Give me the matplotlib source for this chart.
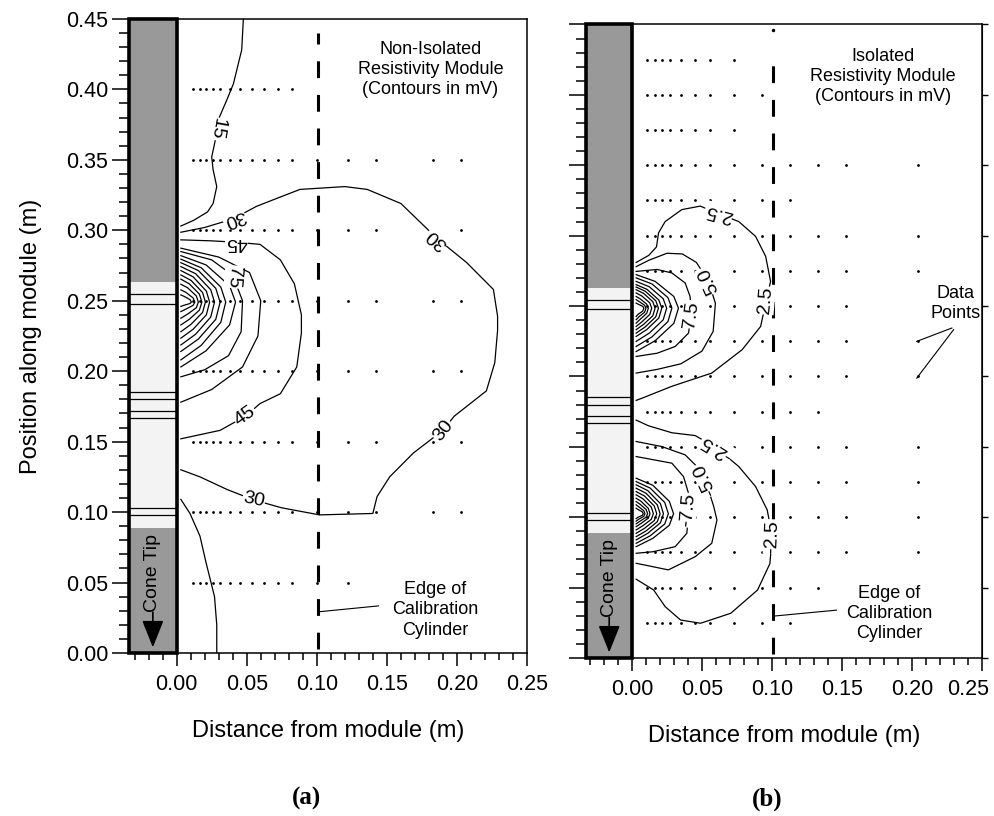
import matplotlib.pyplot as plt
from matplotlib.patches import Rectangle
from matplotlib.ticker import MultipleLocator, FormatStrFormatter

plt.rcParams['font.family'] = ['Liberation Sans', 'DejaVu Sans']

# ---------------------------------------------------------------- module
MOD_TOP_GRAY = (0.263, 0.45)
MOD_TIP_GRAY = (0.0, 0.089)
MOD_BANDS = [0.2546, 0.248, 0.1855, 0.180, 0.172, 0.1666, 0.103, 0.098]

X_TICKS = [0.0, 0.05, 0.10, 0.15, 0.20, 0.25]
Y_TICKS = [0.0, 0.05, 0.10, 0.15, 0.20, 0.25, 0.30, 0.35, 0.40, 0.45]

# ------------------------------------------- (a) non-isolated, contours in mV
A_LEFT = -0.034
A_C15U_X = [0.003, 0.012, 0.022, 0.026, 0.0286, 0.026, 0.025, 0.028, 0.0295, 0.036, 0.0405, 0.0464, 0.0476]
A_C15U_Y = [0.303, 0.307, 0.313, 0.319, 0.331, 0.343, 0.352, 0.366, 0.378, 0.393, 0.404, 0.428, 0.45]
A_C15L_X = [0.003, 0.0095, 0.0166, 0.021, 0.027, 0.0286, 0.0286]
A_C15L_Y = [0.109, 0.099, 0.083, 0.064, 0.04, 0.02, 0.0]
A_C30_X = [0.003, 0.02, 0.04, 0.057, 0.075, 0.088, 0.104, 0.12, 0.136, 0.16, 0.186, 0.207,
           0.226, 0.229, 0.229, 0.227, 0.221, 0.198, 0.19, 0.169, 0.152, 0.143, 0.14, 0.102,
           0.075, 0.055, 0.036, 0.0166, 0.003]
A_C30_Y = [0.2986, 0.302, 0.308, 0.317, 0.324, 0.329, 0.33, 0.331, 0.329, 0.319, 0.294, 0.277,
           0.258, 0.239, 0.229, 0.206, 0.186, 0.168, 0.158, 0.142, 0.125, 0.111, 0.099, 0.098,
           0.103, 0.1086, 0.116, 0.125, 0.13]
A_C45_X = [0.003, 0.025, 0.0425, 0.0595, 0.074, 0.084, 0.089, 0.089, 0.0857, 0.074, 0.0595, 0.049, 0.031, 0.003]
A_C45_Y = [0.2932, 0.2925, 0.2915, 0.29, 0.279, 0.262, 0.24, 0.227, 0.203, 0.184, 0.177, 0.168, 0.158, 0.152]
A_C60_X = [0.003, 0.03, 0.052, 0.06, 0.058, 0.047, 0.025, 0.003]
A_C60_Y = [0.2873, 0.281, 0.27, 0.25, 0.225, 0.203, 0.187, 0.178]
A_C75_X = [0.003, 0.025, 0.04, 0.047, 0.046, 0.037, 0.02, 0.003]
A_C75_Y = [0.2849, 0.279, 0.268, 0.25, 0.228, 0.211, 0.201, 0.196]
# 90 ... 225 mV, squeezed round the electrode
A_INNER_X = [
    [0.003, 0.021, 0.0378, 0.042, 0.0378, 0.021, 0.003],
    [0.003, 0.0175, 0.0315, 0.035, 0.0315, 0.0175, 0.003],
    [0.003, 0.0155, 0.0279, 0.031, 0.0279, 0.0155, 0.003],
    [0.003, 0.0135, 0.0243, 0.027, 0.0243, 0.0135, 0.003],
    [0.003, 0.0118, 0.0212, 0.0235, 0.0212, 0.0118, 0.003],
    [0.003, 0.0103, 0.0185, 0.0205, 0.0185, 0.0103, 0.003],
    [0.003, 0.009, 0.0162, 0.018, 0.0162, 0.009, 0.003],
    [0.003, 0.0078, 0.014, 0.0155, 0.014, 0.0078, 0.003],
    [0.003, 0.0065, 0.0117, 0.013, 0.0117, 0.0065, 0.003],
    [0.003, 0.0053, 0.0095, 0.0105, 0.0095, 0.0053, 0.003],
]
A_INNER_Y = [
    [0.282, 0.2754, 0.2606, 0.249, 0.2329, 0.2145, 0.203],
    [0.2795, 0.2734, 0.2597, 0.249, 0.2347, 0.2183, 0.208],
    [0.277, 0.2714, 0.2588, 0.249, 0.2368, 0.2228, 0.214],
    [0.2742, 0.2692, 0.2578, 0.249, 0.2384, 0.2262, 0.2186],
    [0.2714, 0.2669, 0.2568, 0.249, 0.24, 0.2298, 0.2234],
    [0.2683, 0.2644, 0.2558, 0.249, 0.2417, 0.2333, 0.228],
    [0.2653, 0.262, 0.2547, 0.249, 0.2433, 0.2368, 0.2328],
    [0.2617, 0.2592, 0.2534, 0.249, 0.245, 0.2405, 0.2376],
    [0.2577, 0.256, 0.252, 0.249, 0.2467, 0.244, 0.2423],
    [0.2541, 0.2531, 0.2508, 0.249, 0.248, 0.2468, 0.246],
]
A_LABELS = [('15', 0.0285, 0.372, -100), ('30', 0.041, 0.3085, 200), ('45', 0.0425, 0.2915, 180),
            ('75', 0.0405, 0.267, -95), ('30', 0.186, 0.294, 138), ('45', 0.049, 0.168, 35),
            ('30', 0.19, 0.158, 52), ('30', 0.055, 0.1086, -12)]
A_DOT_X = [0.012, 0.0165, 0.021, 0.026, 0.031, 0.038, 0.045, 0.0535, 0.0625, 0.072, 0.082,
           0.10, 0.122, 0.142, 0.183, 0.203]
A_ROWS = [0.05, 0.10, 0.15, 0.20, 0.25, 0.30, 0.35, 0.40]
A_ROW_XMAX = [0.125, 0.21, 0.21, 0.21, 0.21, 0.21, 0.21, 0.09]
A_EDGE_X, A_EDGE_Y = 0.101, (0.003, 0.44)

# --------------------------------------------- (b) isolated, contours in mV
B_LEFT = -0.0325
B_P25_X = [0.003, 0.012, 0.0175, 0.019, 0.0237, 0.0356, 0.0488, 0.0607, 0.0763, 0.0883, 0.0955,
           0.099, 0.0955, 0.0919, 0.0787, 0.057, 0.0285, 0.0083, 0.003]
B_P25_Y = [0.281, 0.286, 0.292, 0.302, 0.31, 0.3185, 0.321, 0.316, 0.31, 0.2995, 0.2853,
           0.2675, 0.252, 0.2355, 0.219, 0.2024, 0.193, 0.185, 0.183]
B_P50_X = [0.003, 0.012, 0.025, 0.036, 0.046, 0.0545, 0.0596, 0.058, 0.05, 0.035, 0.018, 0.003]
B_P50_Y = [0.278, 0.2825, 0.2875, 0.287, 0.281, 0.268, 0.252, 0.232, 0.218, 0.209, 0.205, 0.2024]
B_P75_X = [0.003, 0.018, 0.0285, 0.038, 0.0415, 0.0425, 0.0404, 0.0309, 0.018, 0.003]
B_P75_Y = [0.2746, 0.276, 0.2735, 0.2664, 0.2568, 0.245, 0.2308, 0.2213, 0.2165, 0.2142]
B_PIN_X = [
    [0.003, 0.0166, 0.0299, 0.0332, 0.0299, 0.0166, 0.003],
    [0.003, 0.0143, 0.0257, 0.0285, 0.0257, 0.0143, 0.003],
    [0.003, 0.0124, 0.0223, 0.0248, 0.0223, 0.0124, 0.003],
    [0.003, 0.0107, 0.0192, 0.0213, 0.0192, 0.0107, 0.003],
    [0.003, 0.0095, 0.017, 0.0189, 0.017, 0.0095, 0.003],
    [0.003, 0.0083, 0.0149, 0.0165, 0.0149, 0.0083, 0.003],
    [0.003, 0.0071, 0.0127, 0.0141, 0.0127, 0.0071, 0.003],
    [0.003, 0.0059, 0.0105, 0.0117, 0.0105, 0.0059, 0.003],
    [0.003, 0.005, 0.009, 0.01, 0.009, 0.005, 0.003],
    [0.003, 0.0043, 0.0077, 0.0085, 0.0077, 0.0043, 0.003],
]
B_PIN_Y = [
    [0.2723, 0.2675, 0.2568, 0.2485, 0.2377, 0.2254, 0.2177],
    [0.27, 0.2657, 0.256, 0.2485, 0.239, 0.2281, 0.2213],
    [0.2675, 0.2637, 0.2552, 0.2485, 0.2402, 0.2308, 0.2249],
    [0.2652, 0.2619, 0.2543, 0.2485, 0.2415, 0.2334, 0.2284],
    [0.2635, 0.2605, 0.2538, 0.2485, 0.2423, 0.2352, 0.2308],
    [0.2616, 0.259, 0.2531, 0.2485, 0.2431, 0.237, 0.2332],
    [0.2593, 0.2571, 0.2523, 0.2485, 0.244, 0.2388, 0.2355],
    [0.2568, 0.2551, 0.2514, 0.2485, 0.2448, 0.2406, 0.2379],
    [0.2545, 0.2533, 0.2506, 0.2485, 0.2456, 0.2424, 0.2403],
    [0.2521, 0.2514, 0.2498, 0.2485, 0.2464, 0.2441, 0.2426],
]
B_N25_X = [0.003, 0.0117, 0.0285, 0.0452, 0.0607, 0.0763, 0.0883, 0.0966, 0.1002, 0.0985,
           0.0897, 0.0706, 0.049, 0.0347, 0.0237, 0.0155, 0.003]
B_N25_Y = [0.169, 0.165, 0.16, 0.158, 0.149, 0.136, 0.1218, 0.1052, 0.0862, 0.067,
           0.0483, 0.0318, 0.0247, 0.027, 0.0365, 0.0483, 0.056]
B_N50_X = [0.003, 0.0213, 0.038, 0.0452, 0.0524, 0.0584, 0.0607, 0.057, 0.0452, 0.026, 0.003]
B_N50_Y = [0.1538, 0.1502, 0.1443, 0.1372, 0.1265, 0.1076, 0.098, 0.0815, 0.072, 0.0626, 0.0673]
B_N75_X = [0.003, 0.0285, 0.0368, 0.0404, 0.0405, 0.0392, 0.0309, 0.015, 0.003]
B_N75_Y = [0.1431, 0.1384, 0.1289, 0.117, 0.105, 0.0886, 0.0791, 0.0755, 0.0744]
B_NIN_X = [
    [0.003, 0.0149, 0.0267, 0.0297, 0.0267, 0.0149, 0.003],
    [0.003, 0.013, 0.0234, 0.026, 0.0234, 0.013, 0.003],
    [0.003, 0.0113, 0.0203, 0.0225, 0.0203, 0.0113, 0.003],
    [0.003, 0.0101, 0.0181, 0.0201, 0.0181, 0.0101, 0.003],
    [0.003, 0.0089, 0.0159, 0.0177, 0.0159, 0.0089, 0.003],
    [0.003, 0.0077, 0.0138, 0.0153, 0.0138, 0.0077, 0.003],
    [0.003, 0.0065, 0.0116, 0.0129, 0.0116, 0.0065, 0.003],
    [0.003, 0.0056, 0.0101, 0.0112, 0.0101, 0.0056, 0.003],
    [0.003, 0.0047, 0.0084, 0.0093, 0.0084, 0.0047, 0.003],
    [0.003, 0.0041, 0.0073, 0.0081, 0.0073, 0.0041, 0.003],
]
B_NIN_Y = [
    [0.1277, 0.1227, 0.1113, 0.1025, 0.0943, 0.085, 0.0791],
    [0.1253, 0.1207, 0.1105, 0.1025, 0.0952, 0.0868, 0.0815],
    [0.123, 0.1189, 0.1097, 0.1025, 0.096, 0.0886, 0.0839],
    [0.1206, 0.117, 0.1088, 0.1025, 0.0968, 0.0903, 0.0862],
    [0.1182, 0.1151, 0.108, 0.1025, 0.0976, 0.0921, 0.0886],
    [0.1159, 0.1132, 0.1072, 0.1025, 0.0985, 0.0939, 0.091],
    [0.1135, 0.1113, 0.1064, 0.1025, 0.0993, 0.0956, 0.0933],
    [0.1111, 0.1094, 0.1055, 0.1025, 0.1, 0.0971, 0.0953],
    [0.1088, 0.1075, 0.1047, 0.1025, 0.1006, 0.0985, 0.0972],
    [0.1064, 0.1056, 0.1039, 0.1025, 0.1013, 0.0999, 0.099],
]
B_LABELS = [('2.5', 0.062, 0.3165, 165), ('2.5', 0.0955, 0.254, 85), ('5.0', 0.0545, 0.268, 114),
            ('7.5', 0.0425, 0.244, 82), ('-2.5', 0.0607, 0.1495, 148), ('-5.0', 0.0524, 0.1265, 114),
            ('-7.5', 0.040, 0.105, 85), ('-2.5', 0.1002, 0.0862, 88)]
B_DOT_X = [0.011, 0.0165, 0.0215, 0.027, 0.035, 0.045, 0.056, 0.073, 0.093, 0.113, 0.133, 0.153, 0.204]
B_ROWS = [0.025, 0.05, 0.075, 0.10, 0.125, 0.15, 0.175, 0.20, 0.225, 0.25, 0.275, 0.30,
          0.325, 0.35, 0.375, 0.40, 0.425]
B_ROW_XMAX = [0.115, 0.14, 0.21, 0.21, 0.21, 0.21, 0.14, 0.21, 0.21, 0.16, 0.21, 0.21,
              0.115, 0.21, 0.08, 0.095, 0.08]
B_EDGE_X, B_EDGE_Y = 0.1005, (0.003, 0.432)


def draw_module(ax, left):
    w = -left
    ax.add_patch(Rectangle((left, 0), w, 0.45, fc='#f3f3f3', ec='none', zorder=3))
    for y0, y1 in (MOD_TOP_GRAY, MOD_TIP_GRAY):
        ax.add_patch(Rectangle((left, y0), w, y1 - y0, fc='#999999', ec='none', zorder=3))
    ax.hlines(MOD_BANDS, left, 0, color='k', lw=0.9, zorder=4)
    ax.add_patch(Rectangle((left, 0), w, 0.45, fill=False, ec='k', lw=2.6,
                           zorder=5, clip_on=False))
    xc = left / 2
    ax.text(xc, 0.057, 'Cone Tip', rotation=90, ha='center', va='center',
            fontsize=14, zorder=6)
    ax.annotate('', xy=(xc, 0.004), xytext=(xc, 0.029), zorder=6,
                arrowprops=dict(arrowstyle='-|>,head_length=0.7,head_width=0.28',
                                color='k', lw=1.2, shrinkA=0, shrinkB=0,
                                mutation_scale=24))


def draw_lines(ax, xs_list, ys_list):
    for xs, ys in zip(xs_list, ys_list):
        ax.plot(xs, ys, color='k', lw=0.9, zorder=2)


def draw_labels(ax, labels):
    for txt, x, y, rot in labels:
        ax.text(x, y, txt, rotation=rot, ha='center', va='center', fontsize=14,
                rotation_mode='anchor', zorder=4,
                bbox=dict(fc='white', ec='none', pad=0.4))


def draw_dots(ax, dot_x, rows, row_xmax):
    for y, xm in zip(rows, row_xmax):
        xs = [x for x in dot_x if x <= xm]
        ax.plot(xs, [y] * len(xs), 'o', ms=2.0, color='k', mew=0, zorder=2)


def style_axes(ax, left, ylabels):
    ax.set_xlim(left, 0.25)
    ax.set_ylim(0, 0.45)
    ax.set_xticks(X_TICKS)
    ax.set_yticks(Y_TICKS)
    ax.xaxis.set_minor_locator(MultipleLocator(0.01))
    ax.yaxis.set_minor_locator(MultipleLocator(0.01))
    ax.xaxis.set_major_formatter(FormatStrFormatter('%.2f'))
    ax.yaxis.set_major_formatter(FormatStrFormatter('%.2f'))
    ax.tick_params(which='both', direction='out', labelsize=15.5, width=1.1)
    ax.tick_params(axis='x', which='major', length=9, pad=6)
    ax.tick_params(axis='x', which='minor', length=5)
    ax.tick_params(axis='y', which='major', length=12, pad=3)
    ax.tick_params(axis='y', which='minor', length=7)
    if not ylabels:
        ax.tick_params(axis='y', labelleft=False)
    for s in ax.spines.values():
        s.set_linewidth(1.1)
    ax.set_xlabel('Distance from module (m)', fontsize=17, labelpad=18)


fig = plt.figure(figsize=(9.94, 8.16), dpi=100)
ax_a = fig.add_axes([0.1298, 0.1998, 0.4004, 0.7770])
ax_b = fig.add_axes([0.5900, 0.1936, 0.3979, 0.7764])

# ---- panel (a)
draw_lines(ax_a, [A_C15U_X, A_C15L_X, A_C30_X, A_C45_X, A_C60_X, A_C75_X] + A_INNER_X,
           [A_C15U_Y, A_C15L_Y, A_C30_Y, A_C45_Y, A_C60_Y, A_C75_Y] + A_INNER_Y)
draw_dots(ax_a, A_DOT_X, A_ROWS, A_ROW_XMAX)
ax_a.plot([A_EDGE_X, A_EDGE_X], A_EDGE_Y, color='k', lw=2.2, dashes=(5.5, 5.5), zorder=3)
draw_labels(ax_a, A_LABELS)
draw_module(ax_a, A_LEFT)
style_axes(ax_a, A_LEFT, True)
ax_a.set_ylabel('Position along module (m)', fontsize=17, labelpad=17)
ax_a.text(0.181, 0.414, 'Non-Isolated\nResistivity Module\n(Contours in mV)',
          ha='center', va='center', fontsize=13, linespacing=1.25)
ax_a.plot([0.102, 0.144], [0.0293, 0.0334], color='k', lw=0.8)
ax_a.text(0.1845, 0.0305, 'Edge of\nCalibration\nCylinder', ha='center', va='center',
          fontsize=13, linespacing=1.25)

# ---- panel (b)
draw_lines(ax_b, [B_P25_X, B_P50_X, B_P75_X, B_N25_X, B_N50_X, B_N75_X] + B_PIN_X + B_NIN_X,
           [B_P25_Y, B_P50_Y, B_P75_Y, B_N25_Y, B_N50_Y, B_N75_Y] + B_PIN_Y + B_NIN_Y)
draw_dots(ax_b, B_DOT_X, B_ROWS, B_ROW_XMAX)
ax_b.plot([B_EDGE_X], [0.446], 'o', ms=2.5, color='k', mew=0)
ax_b.plot([B_EDGE_X, B_EDGE_X], B_EDGE_Y, color='k', lw=2.2, dashes=(5.5, 5.5), zorder=3)
draw_labels(ax_b, B_LABELS)
draw_module(ax_b, B_LEFT)
style_axes(ax_b, B_LEFT, False)
# last tick label sits just inside the figure edge, as in the source
ax_b.set_xticklabels(['%.2f' % t for t in X_TICKS[:-1]] + [''])
ax_b.annotate('%.2f' % X_TICKS[-1], xy=(X_TICKS[-1], 0), xycoords=('data', 'axes fraction'),
              xytext=(-10, -15), textcoords='offset points', ha='center', va='top',
              fontsize=15.5, annotation_clip=False)
sec = ax_b.secondary_yaxis('right')
sec.set_yticks(Y_TICKS)
sec.tick_params(length=4, width=1, labelright=False)
ax_b.text(0.1795, 0.413, 'Isolated\nResistivity Module\n(Contours in mV)',
          ha='center', va='center', fontsize=13, linespacing=1.25)
ax_b.text(0.231, 0.252, 'Data\nPoints', ha='center', va='center', fontsize=13,
          linespacing=1.25)
ax_b.plot([0.2285, 0.2034], [0.2344, 0.2249], color='k', lw=0.8)
ax_b.plot([0.2297, 0.2034], [0.2332, 0.1988], color='k', lw=0.8)
ax_b.plot([0.1025, 0.146], [0.0299, 0.034], color='k', lw=0.8)
ax_b.text(0.184, 0.0318, 'Edge of\nCalibration\nCylinder', ha='center', va='center',
          fontsize=13, linespacing=1.25)

fig.text(0.308, 0.021, '(a)', ha='center', va='center', fontsize=18,
         fontweight='bold', family='Liberation Serif')
fig.text(0.772, 0.021, '(b)', ha='center', va='center', fontsize=18,
         fontweight='bold', family='Liberation Serif')

fig.savefig('out.png', dpi=100)
